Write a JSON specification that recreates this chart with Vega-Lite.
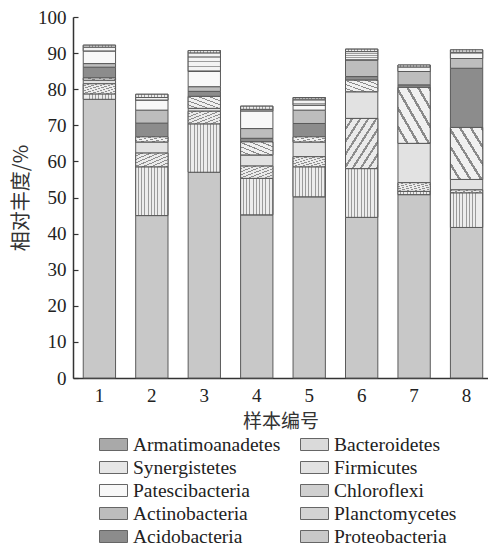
{
  "$schema": "https://vega.github.io/schema/vega-lite/v6.json",
  "autosize": "none",
  "width": 415,
  "height": 361,
  "padding": {"left": 73, "top": 17, "right": 0, "bottom": 168},
  "background": "white",
  "data": {"values": [
    {"s":"1","p":"Proteobacteria","v":77.2,"k":1},{"s":"1","p":"Planctomycetes","v":1.5,"k":2},{"s":"1","p":"Chloroflexi","v":2.8,"k":3},{"s":"1","p":"Firmicutes","v":1.0,"k":4},{"s":"1","p":"Bacteroidetes","v":0.6,"k":5},{"s":"1","p":"Acidobacteria","v":3.0,"k":6},{"s":"1","p":"Actinobacteria","v":1.0,"k":7},{"s":"1","p":"Patescibacteria","v":3.5,"k":8},{"s":"1","p":"Synergistetes","v":1.0,"k":9},{"s":"1","p":"Armatimoanadetes","v":0.6,"k":10},
    {"s":"2","p":"Proteobacteria","v":45.0,"k":1},{"s":"2","p":"Planctomycetes","v":13.5,"k":2},{"s":"2","p":"Chloroflexi","v":3.8,"k":3},{"s":"2","p":"Firmicutes","v":3.1,"k":4},{"s":"2","p":"Bacteroidetes","v":1.4,"k":5},{"s":"2","p":"Acidobacteria","v":3.8,"k":6},{"s":"2","p":"Actinobacteria","v":3.6,"k":7},{"s":"2","p":"Patescibacteria","v":2.8,"k":8},{"s":"2","p":"Synergistetes","v":0.7,"k":9},{"s":"2","p":"Armatimoanadetes","v":0.9,"k":10},
    {"s":"3","p":"Proteobacteria","v":57.0,"k":1},{"s":"3","p":"Planctomycetes","v":13.4,"k":2},{"s":"3","p":"Chloroflexi","v":3.5,"k":3},{"s":"3","p":"Firmicutes","v":0.8,"k":4},{"s":"3","p":"Bacteroidetes","v":3.3,"k":5},{"s":"3","p":"Acidobacteria","v":1.4,"k":6},{"s":"3","p":"Actinobacteria","v":1.3,"k":7},{"s":"3","p":"Patescibacteria","v":4.2,"k":8},{"s":"3","p":"Synergistetes","v":5.1,"k":9},{"s":"3","p":"Armatimoanadetes","v":0.7,"k":10},
    {"s":"4","p":"Proteobacteria","v":45.2,"k":1},{"s":"4","p":"Planctomycetes","v":10.1,"k":2},{"s":"4","p":"Chloroflexi","v":3.4,"k":3},{"s":"4","p":"Firmicutes","v":3.1,"k":4},{"s":"4","p":"Bacteroidetes","v":3.6,"k":5},{"s":"4","p":"Acidobacteria","v":1.0,"k":6},{"s":"4","p":"Actinobacteria","v":2.7,"k":7},{"s":"4","p":"Patescibacteria","v":4.9,"k":8},{"s":"4","p":"Synergistetes","v":0.4,"k":9},{"s":"4","p":"Armatimoanadetes","v":0.9,"k":10},
    {"s":"5","p":"Proteobacteria","v":50.2,"k":1},{"s":"5","p":"Planctomycetes","v":8.3,"k":2},{"s":"5","p":"Chloroflexi","v":2.8,"k":3},{"s":"5","p":"Firmicutes","v":4.1,"k":4},{"s":"5","p":"Bacteroidetes","v":1.4,"k":5},{"s":"5","p":"Acidobacteria","v":3.7,"k":6},{"s":"5","p":"Actinobacteria","v":3.7,"k":7},{"s":"5","p":"Patescibacteria","v":1.4,"k":8},{"s":"5","p":"Synergistetes","v":1.6,"k":9},{"s":"5","p":"Armatimoanadetes","v":0.5,"k":10},
    {"s":"6","p":"Proteobacteria","v":44.5,"k":1},{"s":"6","p":"Planctomycetes","v":13.5,"k":2},{"s":"6","p":"Chloroflexi","v":13.9,"k":3},{"s":"6","p":"Firmicutes","v":7.4,"k":4},{"s":"6","p":"Bacteroidetes","v":3.2,"k":5},{"s":"6","p":"Acidobacteria","v":1.0,"k":6},{"s":"6","p":"Actinobacteria","v":4.6,"k":7},{"s":"6","p":"Synergistetes","v":2.3,"k":9},{"s":"6","p":"Armatimoanadetes","v":0.7,"k":10},
    {"s":"7","p":"Proteobacteria","v":50.8,"k":1},{"s":"7","p":"Planctomycetes","v":0.9,"k":2},{"s":"7","p":"Chloroflexi","v":2.4,"k":3},{"s":"7","p":"Firmicutes","v":10.9,"k":4},{"s":"7","p":"Bacteroidetes","v":15.5,"k":5},{"s":"7","p":"Acidobacteria","v":0.7,"k":6},{"s":"7","p":"Actinobacteria","v":3.7,"k":7},{"s":"7","p":"Synergistetes","v":1.2,"k":9},{"s":"7","p":"Armatimoanadetes","v":0.6,"k":10},
    {"s":"8","p":"Proteobacteria","v":41.7,"k":1},{"s":"8","p":"Planctomycetes","v":9.6,"k":2},{"s":"8","p":"Chloroflexi","v":0.8,"k":3},{"s":"8","p":"Firmicutes","v":2.9,"k":4},{"s":"8","p":"Bacteroidetes","v":14.4,"k":5},{"s":"8","p":"Acidobacteria","v":16.4,"k":6},{"s":"8","p":"Actinobacteria","v":2.7,"k":7},{"s":"8","p":"Synergistetes","v":1.7,"k":9},{"s":"8","p":"Armatimoanadetes","v":0.7,"k":10}
  ]},
  "encoding": {
    "x": {
      "field": "s", "type": "ordinal",
      "scale": {"paddingInner": 0.384, "paddingOuter": 0.148, "align": 0.66},
      "axis": {"title": "样本编号", "labelAngle": 0, "tickSize": -5, "labelPadding": 13, "titlePadding": 7, "titleFontSize": 19}
    },
    "y": {
      "field": "v", "type": "quantitative", "stack": "zero",
      "scale": {"domain": [0, 100], "nice": false},
      "axis": {"title": "相对丰度/%", "values": [0,10,20,30,40,50,60,70,80,90,100], "tickSize": -5, "labelPadding": 12, "titlePadding": 6, "titleFontSize": 20, "grid": false}
    },
    "order": {"field": "k", "type": "quantitative"}
  },
  "layer": [
    {
      "mark": {"type": "bar", "stroke": "#5a5a5a", "strokeWidth": 1},
      "encoding": {
        "fill": {
          "field": "p", "type": "nominal",
          "scale": {
            "domain": ["Armatimoanadetes","Synergistetes","Patescibacteria","Actinobacteria","Acidobacteria","Bacteroidetes","Firmicutes","Chloroflexi","Planctomycetes","Proteobacteria"],
            "range": ["#a9a9a9","#e6e6e6","#f8f8f8","#bdbdbd","#8c8c8c","#dadada","#e2e2e2","#d0d0d0","#d3d3d3","#c8c8c8"]
          },
          "legend": {
            "title": null, "orient": "none", "legendX": 30, "legendY": 417,
            "columns": 2, "columnPadding": 17, "rowPadding": 3,
            "symbolType": "M-1.4,-0.6H1.4V0.6H-1.4Z", "symbolSize": 400,
            "symbolStrokeColor": "#666", "symbolStrokeWidth": 1,
            "labelFont": "Liberation Serif", "labelFontSize": 19.5, "labelColor": "#222", "labelOffset": 9,
            "labelLimit": 300
          }
        }
      }
    },
    {
      "mark": {
        "type": "bar", "stroke": "#5a5a5a", "strokeWidth": 1,
        "fill": {"gradient": "linear", "x1": 0, "y1": 0, "x2": 1, "y2": 0, "stops": [
          {"offset": 0, "color": "#ececec"}, {"offset": 0.07, "color": "#ececec"}, {"offset": 0.07, "color": "#9a9a9a"}, {"offset": 0.1, "color": "#9a9a9a"},
          {"offset": 0.1, "color": "#ececec"}, {"offset": 0.17, "color": "#ececec"}, {"offset": 0.17, "color": "#9a9a9a"}, {"offset": 0.2, "color": "#9a9a9a"},
          {"offset": 0.2, "color": "#ececec"}, {"offset": 0.27, "color": "#ececec"}, {"offset": 0.27, "color": "#9a9a9a"}, {"offset": 0.3, "color": "#9a9a9a"},
          {"offset": 0.3, "color": "#ececec"}, {"offset": 0.37, "color": "#ececec"}, {"offset": 0.37, "color": "#9a9a9a"}, {"offset": 0.4, "color": "#9a9a9a"},
          {"offset": 0.4, "color": "#ececec"}, {"offset": 0.47, "color": "#ececec"}, {"offset": 0.47, "color": "#9a9a9a"}, {"offset": 0.5, "color": "#9a9a9a"},
          {"offset": 0.5, "color": "#ececec"}, {"offset": 0.57, "color": "#ececec"}, {"offset": 0.57, "color": "#9a9a9a"}, {"offset": 0.6, "color": "#9a9a9a"},
          {"offset": 0.6, "color": "#ececec"}, {"offset": 0.67, "color": "#ececec"}, {"offset": 0.67, "color": "#9a9a9a"}, {"offset": 0.7, "color": "#9a9a9a"},
          {"offset": 0.7, "color": "#ececec"}, {"offset": 0.77, "color": "#ececec"}, {"offset": 0.77, "color": "#9a9a9a"}, {"offset": 0.8, "color": "#9a9a9a"},
          {"offset": 0.8, "color": "#ececec"}, {"offset": 0.87, "color": "#ececec"}, {"offset": 0.87, "color": "#9a9a9a"}, {"offset": 0.9, "color": "#9a9a9a"},
          {"offset": 0.9, "color": "#ececec"}, {"offset": 0.97, "color": "#ececec"}, {"offset": 0.97, "color": "#9a9a9a"}, {"offset": 1, "color": "#9a9a9a"}
        ]}
      },
      "encoding": {
        "opacity": {"condition": {"test": "datum.p === 'Planctomycetes' || datum.p === 'Armatimoanadetes'", "value": 1}, "value": 0}
      }
    },
    {
      "mark": {
        "type": "bar", "stroke": "#5a5a5a", "strokeWidth": 1,
        "fill": {"gradient": "linear", "x1": 0, "y1": 0, "x2": 1, "y2": 1, "stops": [
          {"offset": 0, "color": "#ebebeb"}, {"offset": 0.0875, "color": "#ebebeb"}, {"offset": 0.0875, "color": "#8e8e8e"}, {"offset": 0.125, "color": "#8e8e8e"},
          {"offset": 0.125, "color": "#ebebeb"}, {"offset": 0.2125, "color": "#ebebeb"}, {"offset": 0.2125, "color": "#8e8e8e"}, {"offset": 0.25, "color": "#8e8e8e"},
          {"offset": 0.25, "color": "#ebebeb"}, {"offset": 0.3375, "color": "#ebebeb"}, {"offset": 0.3375, "color": "#8e8e8e"}, {"offset": 0.375, "color": "#8e8e8e"},
          {"offset": 0.375, "color": "#ebebeb"}, {"offset": 0.4625, "color": "#ebebeb"}, {"offset": 0.4625, "color": "#8e8e8e"}, {"offset": 0.5, "color": "#8e8e8e"},
          {"offset": 0.5, "color": "#ebebeb"}, {"offset": 0.5875, "color": "#ebebeb"}, {"offset": 0.5875, "color": "#8e8e8e"}, {"offset": 0.625, "color": "#8e8e8e"},
          {"offset": 0.625, "color": "#ebebeb"}, {"offset": 0.7125, "color": "#ebebeb"}, {"offset": 0.7125, "color": "#8e8e8e"}, {"offset": 0.75, "color": "#8e8e8e"},
          {"offset": 0.75, "color": "#ebebeb"}, {"offset": 0.8375, "color": "#ebebeb"}, {"offset": 0.8375, "color": "#8e8e8e"}, {"offset": 0.875, "color": "#8e8e8e"},
          {"offset": 0.875, "color": "#ebebeb"}, {"offset": 0.9625, "color": "#ebebeb"}, {"offset": 0.9625, "color": "#8e8e8e"}, {"offset": 1, "color": "#8e8e8e"}
        ]}
      },
      "encoding": {
        "opacity": {"condition": {"test": "datum.p === 'Chloroflexi'", "value": 1}, "value": 0}
      }
    },
    {
      "mark": {
        "type": "bar", "stroke": "#5a5a5a", "strokeWidth": 1,
        "fill": {"gradient": "linear", "x1": 0, "y1": 1, "x2": 1, "y2": 0, "stops": [
          {"offset": 0, "color": "#f0f0f0"}, {"offset": 0.125, "color": "#f0f0f0"}, {"offset": 0.125, "color": "#8a8a8a"}, {"offset": 0.1667, "color": "#8a8a8a"},
          {"offset": 0.1667, "color": "#f0f0f0"}, {"offset": 0.2917, "color": "#f0f0f0"}, {"offset": 0.2917, "color": "#8a8a8a"}, {"offset": 0.3333, "color": "#8a8a8a"},
          {"offset": 0.3333, "color": "#f0f0f0"}, {"offset": 0.4583, "color": "#f0f0f0"}, {"offset": 0.4583, "color": "#8a8a8a"}, {"offset": 0.5, "color": "#8a8a8a"},
          {"offset": 0.5, "color": "#f0f0f0"}, {"offset": 0.625, "color": "#f0f0f0"}, {"offset": 0.625, "color": "#8a8a8a"}, {"offset": 0.6667, "color": "#8a8a8a"},
          {"offset": 0.6667, "color": "#f0f0f0"}, {"offset": 0.7917, "color": "#f0f0f0"}, {"offset": 0.7917, "color": "#8a8a8a"}, {"offset": 0.8333, "color": "#8a8a8a"},
          {"offset": 0.8333, "color": "#f0f0f0"}, {"offset": 0.9583, "color": "#f0f0f0"}, {"offset": 0.9583, "color": "#8a8a8a"}, {"offset": 1, "color": "#8a8a8a"}
        ]}
      },
      "encoding": {
        "opacity": {"condition": {"test": "datum.p === 'Bacteroidetes'", "value": 1}, "value": 0}
      }
    },
    {
      "mark": {
        "type": "bar", "stroke": "#5a5a5a", "strokeWidth": 1,
        "fill": {"gradient": "linear", "x1": 0, "y1": 0, "x2": 0, "y2": 1, "stops": [
          {"offset": 0, "color": "#f3f3f3"}, {"offset": 0.175, "color": "#f3f3f3"}, {"offset": 0.175, "color": "#9c9c9c"}, {"offset": 0.25, "color": "#9c9c9c"},
          {"offset": 0.25, "color": "#f3f3f3"}, {"offset": 0.425, "color": "#f3f3f3"}, {"offset": 0.425, "color": "#9c9c9c"}, {"offset": 0.5, "color": "#9c9c9c"},
          {"offset": 0.5, "color": "#f3f3f3"}, {"offset": 0.675, "color": "#f3f3f3"}, {"offset": 0.675, "color": "#9c9c9c"}, {"offset": 0.75, "color": "#9c9c9c"},
          {"offset": 0.75, "color": "#f3f3f3"}, {"offset": 0.925, "color": "#f3f3f3"}, {"offset": 0.925, "color": "#9c9c9c"}, {"offset": 1, "color": "#9c9c9c"}
        ]}
      },
      "encoding": {
        "opacity": {"condition": {"test": "datum.p === 'Synergistetes'", "value": 1}, "value": 0}
      }
    }
  ],
  "config": {
    "view": {"stroke": null},
    "axis": {
      "domainColor": "#333", "domainWidth": 1.5, "tickColor": "#333", "tickWidth": 1.2,
      "labelFont": "Liberation Serif", "labelFontSize": 19, "labelColor": "#222",
      "titleFont": "Noto Sans CJK SC", "titleFontSize": 19, "titleFontWeight": "normal", "titleColor": "#333"
    }
  }
}
